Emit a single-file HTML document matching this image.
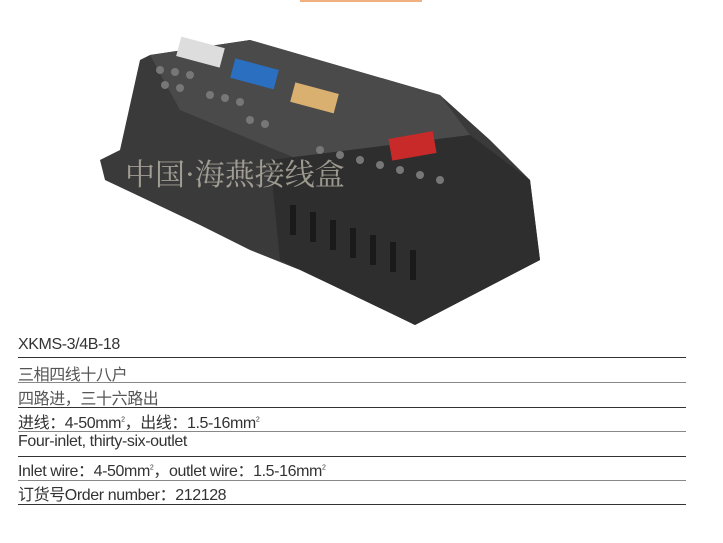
<!DOCTYPE html>
<html><head><meta charset="utf-8"><style>
body{margin:0;width:723px;height:543px;background:#fff;position:relative;overflow:hidden;font-family:"Liberation Sans","Noto Sans CJK SC",sans-serif;color:#333}
.t{position:absolute;left:18px;font-size:16px;letter-spacing:-0.4px;white-space:nowrap}
.l{position:absolute;left:18px;width:668px;height:1px;background:#333}
sup{font-size:7px}
</style></head><body>
<div style="position:absolute;left:300px;top:0;width:122px;height:2px;background:#f0b080"></div>
<svg width="723" height="330" style="position:absolute;left:0;top:0">
<polygon points="150,55 250,40 440,95 490,140 530,180 540,260 415,325 395,315 300,270 250,250 200,225 105,180 100,160 120,150 140,60" fill="#3a3a3a"/>
<polygon points="150,55 250,40 440,95 470,135 300,160 180,110" fill="#4a4a4a"/>
<polygon points="270,160 470,135 530,180 540,260 415,325 280,260" fill="#2e2e2e"/>
<rect x="178" y="42" width="45" height="20" fill="#ddd" transform="rotate(15 200 52)"/>
<rect x="232" y="64" width="45" height="20" fill="#2a6fc0" transform="rotate(15 255 74)"/>
<rect x="292" y="88" width="45" height="20" fill="#d9b070" transform="rotate(15 315 98)"/>
<rect x="390" y="135" width="45" height="22" fill="#c82a2a" transform="rotate(-10 412 146)"/>
<g fill="#777">
<circle cx="160" cy="70" r="4"/><circle cx="175" cy="72" r="4"/><circle cx="190" cy="75" r="4"/><circle cx="165" cy="85" r="4"/><circle cx="180" cy="88" r="4"/>
<circle cx="210" cy="95" r="4"/><circle cx="225" cy="98" r="4"/><circle cx="240" cy="102" r="4"/><circle cx="250" cy="120" r="4"/><circle cx="265" cy="124" r="4"/>
<circle cx="320" cy="150" r="4"/><circle cx="340" cy="155" r="4"/><circle cx="360" cy="160" r="4"/><circle cx="380" cy="165" r="4"/><circle cx="400" cy="170" r="4"/><circle cx="420" cy="175" r="4"/><circle cx="440" cy="180" r="4"/>
</g>
<g fill="#1a1a1a">
<rect x="290" y="205" width="6" height="30"/><rect x="310" y="212" width="6" height="30"/><rect x="330" y="220" width="6" height="30"/><rect x="350" y="228" width="6" height="30"/><rect x="370" y="235" width="6" height="30"/><rect x="390" y="242" width="6" height="30"/><rect x="410" y="250" width="6" height="30"/>
</g>
<text x="125" y="185" font-family="Noto Serif CJK SC,serif" font-size="30" fill="#e8e0d0" opacity="0.6">中国·海燕接线盒</text>
</svg>
<div class="t" style="top:336px">XKMS-3/4B-18</div><div class="l" style="top:357px"></div>
<div class="t" style="top:361px;color:#555">三相四线十八户</div><div class="l" style="top:382px;background:#888"></div>
<div class="t" style="top:385px;color:#555">四路进，三十六路出</div><div class="l" style="top:407px"></div>
<div class="t" style="top:409px">进线：4-50mm<sup>2</sup>，出线：1.5-16mm<sup>2</sup></div><div class="l" style="top:431px;background:#888"></div>
<div class="t" style="top:433px">Four-inlet, thirty-six-outlet</div><div class="l" style="top:456px"></div>
<div class="t" style="top:457px">Inlet wire：4-50mm<sup>2</sup>，outlet wire：1.5-16mm<sup>2</sup></div><div class="l" style="top:480px;background:#888"></div>
<div class="t" style="top:481px">订货号Order number：212128</div><div class="l" style="top:504px"></div>
</body></html>
